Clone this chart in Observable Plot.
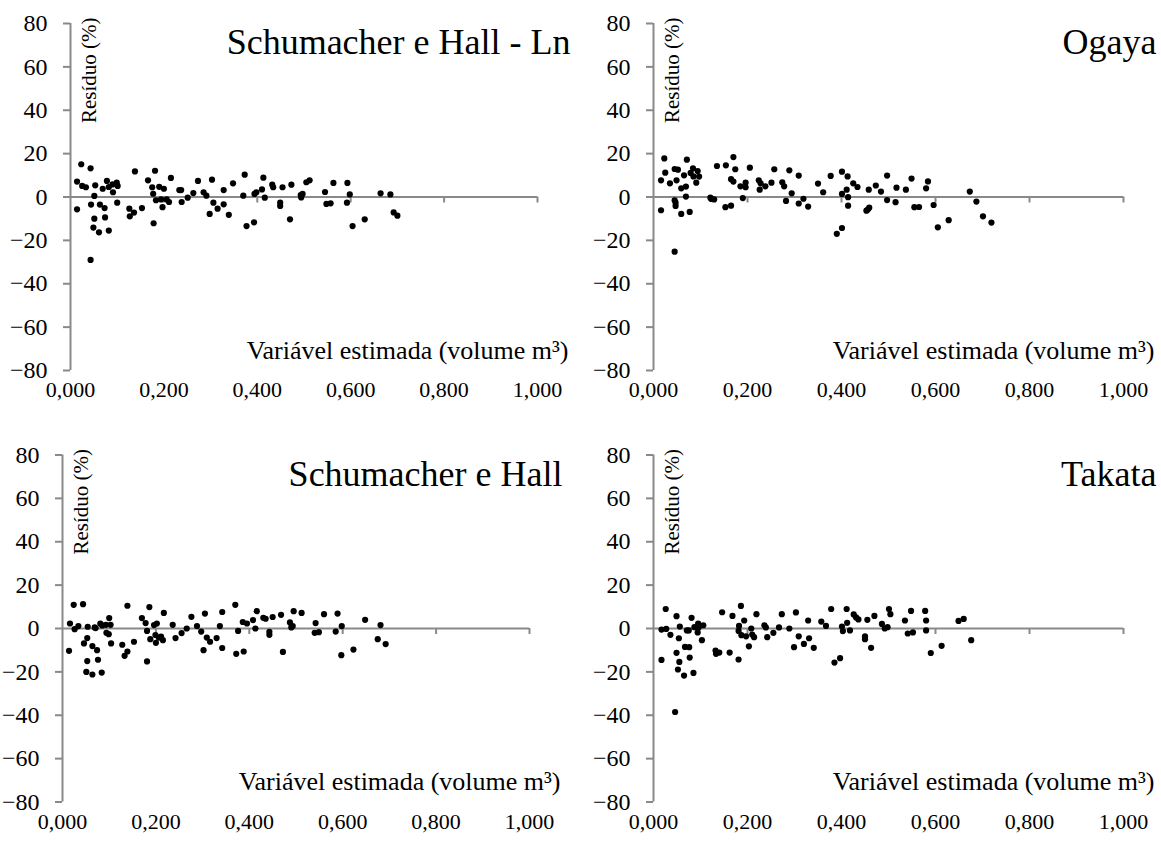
<!DOCTYPE html>
<html>
<head>
<meta charset="utf-8">
<script src="https://cdn.jsdelivr.net/npm/d3@7"></script>
<script src="https://cdn.jsdelivr.net/npm/@observablehq/plot@0.6"></script>
<style>
  body { margin: 0; background: #fff; }
  #charts { position: relative; width: 1161px; height: 845px; overflow: hidden; }
  .panel { position: absolute; width: 580px; height: 422px; }
  .panel svg { overflow: visible; max-width: none; }
  .panel svg, .panel svg text { font-family: "Liberation Serif", "Times New Roman", Tinos, serif !important; }
</style>
</head>
<body>
<div id="charts"></div>
<script>
// Residual plots (%) against estimated volume (m³) for four volume equations.

const panelTitles = ["Schumacher e Hall - Ln", "Ogaya", "Schumacher e Hall", "Takata"];
const yAxisTitle = "Resíduo (%)";
const xAxisTitle = "Variável estimada (volume m³)";
const xTicks = [0, 0.2, 0.4, 0.6, 0.8, 1.0];
const yTicks = [-80, -60, -40, -20, 0, 20, 40, 60, 80];

// [estimated volume (m³), residual (%)]
const schumacherLn = [
  [0.023,15.1],[0.014,7.1],[0.014,-5.7],[0.025,5.1],[0.033,4.5],[0.043,13.2],[0.044,-3.5],[0.043,-29.0],
  [0.051,0.5],[0.053,5.4],[0.051,-10.0],[0.049,-14.1],[0.061,-16.3],[0.063,-3.5],[0.073,-5.1],[0.074,-9.4],
  [0.069,3.8],[0.078,7.4],[0.082,4.6],[0.082,-15.5],[0.090,5.8],[0.091,2.2],[0.099,6.6],[0.101,5.1],
  [0.100,-2.6],[0.126,-5.4],[0.127,-8.9],[0.136,-7.2],[0.138,11.8],[0.153,-5.1],[0.166,7.7],[0.175,4.5],
  [0.177,1.5],[0.181,12.1],[0.183,-1.5],[0.178,-12.1],[0.190,4.7],[0.194,-1.1],[0.197,-4.7],[0.200,3.8],
  [0.206,-1.1],[0.211,-2.3],[0.215,8.8],[0.233,3.2],[0.237,3.2],[0.238,-2.3],[0.251,-0.3],[0.263,1.8],
  [0.273,7.4],[0.285,2.2],[0.291,0.6],[0.298,-7.8],[0.303,8.0],[0.306,-2.6],[0.315,-5.4],[0.328,3.2],
  [0.328,-3.4],[0.339,-8.2],[0.348,6.3],[0.373,10.3],[0.370,0.6],[0.377,-13.4],[0.393,-11.7],[0.394,1.4],
  [0.398,2.2],[0.410,3.5],[0.413,8.9],[0.416,-0.3],[0.432,5.7],[0.434,4.5],[0.449,-2.6],[0.449,-4.1],
  [0.454,4.5],[0.470,-10.3],[0.473,5.7],[0.493,0.9],[0.494,-0.2],[0.497,1.4],[0.505,6.8],[0.512,7.7],
  [0.545,2.3],[0.548,-3.2],[0.557,-2.9],[0.563,6.5],[0.592,-2.6],[0.593,6.5],[0.598,1.2],[0.604,-13.4],
  [0.630,-10.3],[0.664,1.7],[0.685,1.2],[0.692,-7.1],[0.700,-8.6]
];

const ogaya = [
  [0.023,17.8],[0.016,7.7],[0.016,-6.1],[0.025,11.2],[0.035,6.3],[0.045,12.9],[0.052,12.6],[0.049,7.7],
  [0.045,-1.5],[0.047,-2.6],[0.047,-4.1],[0.045,-25.2],[0.059,-7.8],[0.059,4.0],[0.065,10.0],[0.069,4.8],
  [0.069,0.2],[0.071,17.2],[0.077,-6.9],[0.079,11.1],[0.084,13.2],[0.085,9.5],[0.091,6.6],[0.094,12.0],
  [0.097,9.4],[0.121,-0.3],[0.123,-0.9],[0.129,-1.1],[0.135,14.3],[0.154,14.6],[0.153,-4.7],[0.165,-4.0],
  [0.170,18.4],[0.165,8.2],[0.170,7.1],[0.174,12.8],[0.190,-0.5],[0.185,4.9],[0.196,6.6],[0.196,4.5],
  [0.205,13.5],[0.224,7.7],[0.226,3.4],[0.228,6.3],[0.238,4.9],[0.251,6.6],[0.257,12.8],[0.274,6.8],
  [0.278,4.9],[0.289,12.3],[0.294,1.7],[0.282,-1.8],[0.309,9.9],[0.309,-3.0],[0.319,-0.8],[0.329,-4.4],
  [0.350,6.2],[0.361,2.2],[0.377,9.7],[0.401,11.7],[0.401,1.4],[0.390,-17.0],[0.401,-14.3],[0.413,9.5],
  [0.411,3.4],[0.414,-0.1],[0.414,-4.0],[0.425,6.3],[0.434,4.6],[0.453,-6.3],[0.456,-5.8],[0.459,-4.9],
  [0.458,3.4],[0.473,5.3],[0.484,2.5],[0.497,9.9],[0.497,-1.4],[0.515,-2.4],[0.517,4.3],[0.537,3.4],
  [0.549,8.5],[0.555,-4.7],[0.565,-4.6],[0.580,4.0],[0.584,7.2],[0.596,-3.7],[0.605,-14.0],[0.628,-10.7],
  [0.673,2.5],[0.687,-2.1],[0.701,-8.9],[0.719,-11.8]
];

const schumacher = [
  [0.016,2.3],[0.014,-10.3],[0.024,10.9],[0.026,-0.3],[0.034,1.1],[0.044,11.2],[0.046,-6.9],[0.053,-4.4],
  [0.054,0.8],[0.053,-15.0],[0.051,-20.0],[0.064,-21.2],[0.064,-8.1],[0.069,0.5],[0.071,0.2],[0.074,-10.0],
  [0.076,-14.4],[0.081,2.3],[0.085,1.4],[0.084,-20.3],[0.093,1.7],[0.094,-2.0],[0.099,-2.6],[0.100,4.8],
  [0.103,1.7],[0.104,-6.9],[0.128,-7.5],[0.133,-12.6],[0.139,-10.6],[0.139,10.5],[0.153,-6.1],[0.170,4.8],
  [0.178,2.5],[0.181,-1.1],[0.181,-15.2],[0.186,9.9],[0.188,-4.9],[0.196,1.6],[0.199,-3.0],[0.200,-6.6],
  [0.202,2.3],[0.206,-4.2],[0.211,-3.7],[0.215,-5.4],[0.217,7.2],[0.236,1.7],[0.242,-4.4],[0.255,-2.1],
  [0.266,0.0],[0.276,5.4],[0.288,1.1],[0.297,-1.4],[0.302,-10.0],[0.305,6.9],[0.309,-4.2],[0.316,-6.1],
  [0.330,-4.4],[0.337,1.1],[0.342,7.6],[0.342,-9.0],[0.370,10.9],[0.376,-1.1],[0.372,-11.7],[0.386,3.0],
  [0.388,-10.6],[0.395,2.3],[0.408,3.9],[0.413,0.0],[0.416,8.0],[0.430,4.9],[0.435,4.5],[0.443,-1.5],
  [0.443,-2.9],[0.450,5.3],[0.468,6.3],[0.472,-10.8],[0.487,2.8],[0.490,0.5],[0.493,1.1],[0.495,8.0],
  [0.512,7.2],[0.540,-2.0],[0.542,2.5],[0.549,-1.7],[0.560,6.6],[0.585,-1.4],[0.589,6.9],[0.598,1.1],
  [0.597,-12.3],[0.623,-9.7],[0.648,4.0],[0.675,-4.9],[0.681,1.6],[0.692,-7.2]
];

const takata = [
  [0.017,-14.5],[0.017,-0.5],[0.026,9.0],[0.027,-0.2],[0.036,-2.9],[0.046,-38.5],[0.049,5.7],[0.049,-11.2],
  [0.052,-18.9],[0.054,-4.5],[0.055,-15.4],[0.056,0.9],[0.065,-21.7],[0.067,-8.5],[0.071,-0.9],[0.075,-0.9],
  [0.076,-8.6],[0.077,-13.4],[0.081,4.9],[0.085,-20.5],[0.087,0.6],[0.094,-1.8],[0.095,2.3],[0.096,0.5],
  [0.103,-5.4],[0.106,1.5],[0.132,-10.2],[0.133,-11.7],[0.140,-11.1],[0.146,7.5],[0.162,-11.1],[0.168,5.8],
  [0.181,-14.3],[0.182,1.2],[0.181,-1.1],[0.186,10.4],[0.187,-3.1],[0.193,3.7],[0.197,-3.6],[0.203,-8.2],
  [0.208,0.0],[0.210,-2.8],[0.214,-4.0],[0.219,6.6],[0.236,1.5],[0.239,0.5],[0.242,-4.0],[0.255,-2.0],
  [0.267,0.5],[0.273,6.6],[0.289,0.0],[0.303,7.4],[0.309,-3.6],[0.299,-8.6],[0.320,-7.1],[0.329,3.7],
  [0.331,-4.5],[0.341,-8.9],[0.357,3.2],[0.367,1.2],[0.378,9.0],[0.385,-15.7],[0.397,-13.7],[0.401,0.9],
  [0.403,-1.2],[0.411,9.0],[0.412,2.6],[0.418,-0.9],[0.426,6.5],[0.431,5.1],[0.436,4.2],[0.450,-3.6],
  [0.450,-4.9],[0.455,4.0],[0.463,-8.9],[0.470,5.8],[0.486,2.1],[0.492,0.0],[0.498,0.6],[0.501,9.0],
  [0.504,6.6],[0.535,3.7],[0.541,-2.3],[0.552,-1.8],[0.548,8.1],[0.578,8.1],[0.580,3.7],[0.580,-0.9],
  [0.590,-11.3],[0.613,-8.0],[0.649,3.5],[0.660,4.4],[0.676,-5.4]
];

const serif = '"Liberation Serif", "Times New Roman", Tinos, serif';
const axisGray = "#898989";
const formatVolume = (d) => d.toFixed(3).replace(".", ",");

// Page slots for the 2×2 grid, with each frame's margins.
const layout = [
  {data: schumacherLn, left: 0,   top: 0,   ml: 70, mr: 43, mt: 23,   mb: 52},
  {data: ogaya,        left: 581, top: 0,   ml: 72, mr: 38, mt: 23,   mb: 52},
  {data: schumacher,   left: 0,   top: 423, ml: 62, mr: 51, mt: 31.5, mb: 43.5},
  {data: takata,       left: 581, top: 423, ml: 72, mr: 38, mt: 31.5, mb: 43.5}
];

function residualPanel(title, points, box) {
  return Plot.plot({
    width: 580,
    height: 422,
    marginLeft: box.ml,
    marginRight: box.mr,
    marginTop: box.mt,
    marginBottom: box.mb,
    x: {domain: [0, 1]},
    y: {domain: [-80, 80]},
    style: {fontFamily: serif, background: "transparent", color: "black", overflow: "visible"},
    marks: [
      // horizontal axis drawn through zero, with short ticks hanging below it
      Plot.ruleY([0], {stroke: axisGray, strokeWidth: 2}),
      Plot.ruleX(xTicks.slice(1), {x: (d) => d, y1: (d) => 0, y2: (d) => 0, insetBottom: -6, stroke: axisGray, strokeWidth: 2}),
      // vertical axis line at zero volume
      Plot.ruleX([0], {stroke: axisGray, strokeWidth: 2}),
      Plot.axisY({ticks: yTicks, tickSize: 7, tickPadding: 16, stroke: axisGray, strokeWidth: 2, fill: "black", fontSize: 24, label: null}),
      Plot.axisX({ticks: xTicks, tickSize: 0, tickPadding: 11, tickFormat: formatVolume, fill: "black", fontSize: 22, label: null}),
      Plot.dot(points, {x: (d) => d[0], y: (d) => d[1], r: 3.1, fill: "black"}),
      Plot.text([title], {frameAnchor: "top-right", textAnchor: "end", lineAnchor: "middle", dx: 33, dy: 19, fontSize: 36, fill: "black"}),
      Plot.text([yAxisTitle], {frameAnchor: "top-left", rotate: -90, textAnchor: "end", lineAnchor: "bottom", dx: 25, dy: -6, fontSize: 21, fill: "black"}),
      Plot.text([xAxisTitle], {frameAnchor: "bottom-right", textAnchor: "end", lineAnchor: "middle", dx: 31, dy: -20, fontSize: 26, fill: "black"})
    ]
  });
}

const root = document.getElementById("charts");
layout.forEach((box, i) => {
  const div = document.createElement("div");
  div.className = "panel";
  div.style.left = box.left + "px";
  div.style.top = box.top + "px";
  div.appendChild(residualPanel(panelTitles[i], box.data, box));
  root.appendChild(div);
});
</script>
</body>
</html>
